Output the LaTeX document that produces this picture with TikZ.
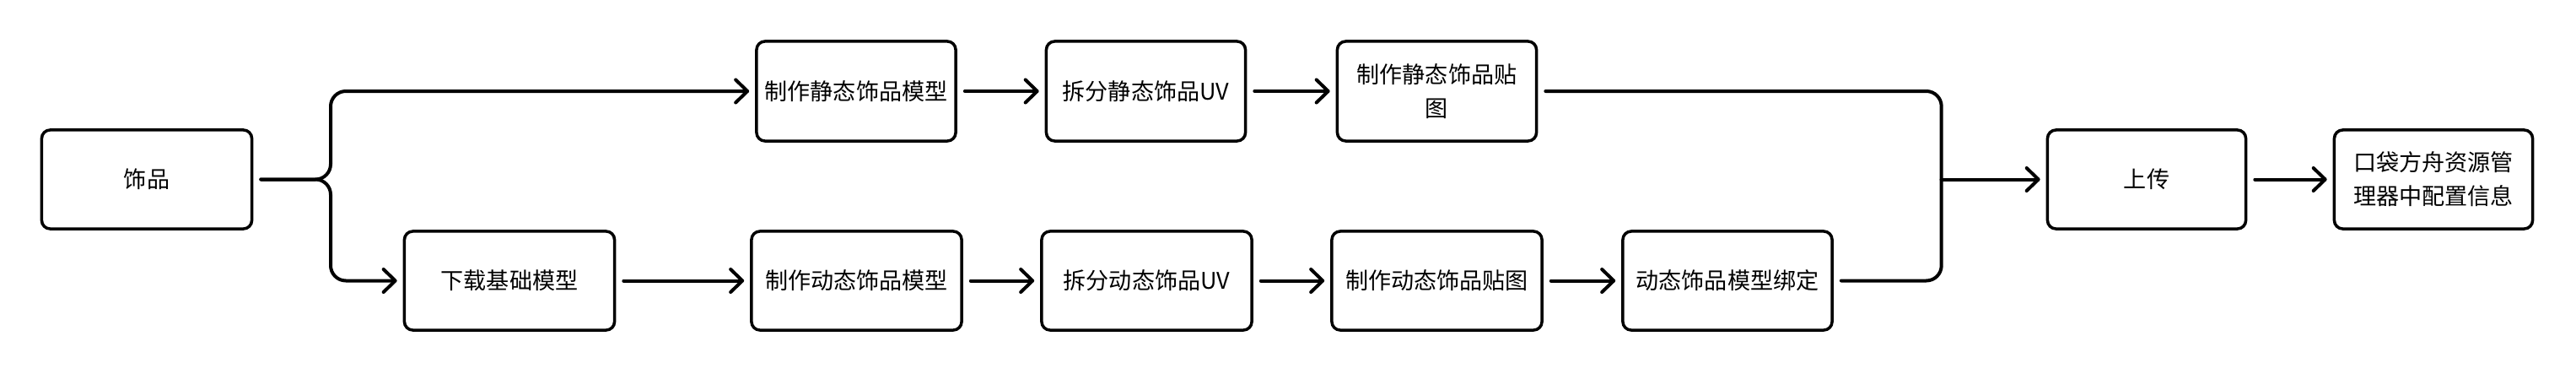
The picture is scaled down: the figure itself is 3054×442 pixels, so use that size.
\documentclass[tikz,border=0pt]{standalone}
\usepackage{fontspec}
\setmainfont{Noto Sans CJK SC}
\usetikzlibrary{arrows.meta}
\begin{document}
\begin{tikzpicture}[x=0.01cm,y=-0.01cm,
  box/.style={draw=black,line width=0.035cm,rounded corners=0.1cm,inner sep=0pt,
    minimum height=1.17cm,align=center,font=\fontsize{7.7pt}{11.4pt}\selectfont},
  conn/.style={draw=black,line width=0.04cm,line cap=round,line join=round,
    rounded corners=0.18cm,shorten <=0.09cm,shorten >=0.07cm,
    -{Straight Barb[length=0.14cm,width=0.27cm,line cap=round,line join=round]}},
  plain/.style={draw=black,line width=0.04cm,line cap=round,line join=round,
    rounded corners=0.18cm,shorten <=0.09cm}
]
\fill[white] (0,0) rectangle (3054,442);
\useasboundingbox (0,0) rectangle (3054,442);

\node[box,minimum width=2.49cm] (shipin) at (174,212.5) {饰品};
\node[box,minimum width=2.49cm] (xiazai) at (604,332.5) {下载基础模型};
\node[box,minimum width=2.36cm,minimum height=1.18cm] (jm) at (1015,108) {制作静态饰品模型};
\node[box,minimum width=2.36cm,minimum height=1.18cm] (jc) at (1358.5,108) {拆分静态饰品UV};
\node[box,minimum width=2.36cm,minimum height=1.18cm] (jt) at (1703.5,108) {制作静态饰品贴\\图};
\node[box,minimum width=2.49cm] (dm) at (1015.5,332.5) {制作动态饰品模型};
\node[box,minimum width=2.49cm] (dc) at (1359.5,332.5) {拆分动态饰品UV};
\node[box,minimum width=2.49cm] (dt) at (1703.5,332.5) {制作动态饰品贴图};
\node[box,minimum width=2.48cm] (db) at (2048,332.5) {动态饰品模型绑定};
\node[box,minimum width=2.35cm] (sc) at (2545,212.5) {上传};
\node[box,minimum width=2.35cm] (kd) at (2885,212.5) {口袋方舟资源管\\理器中配置信息};

\coordinate (split) at (392,212.5);
\coordinate (merge) at (2301.7,212.5);

\draw[conn] (shipin.east) -- (split) |- (jm.west);
\draw[conn] (shipin.east) -- (split) |- (xiazai.west);
\draw[conn] (jm) -- (jc);
\draw[conn] (jc) -- (jt);
\draw[conn] (xiazai) -- (dm);
\draw[conn] (dm) -- (dc);
\draw[conn] (dc) -- (dt);
\draw[conn] (dt) -- (db);
\draw[plain] (jt.east) -| (merge);
\draw[plain] (db.east) -| (merge);
\draw[conn,shorten <=0pt] (merge) -- (sc.west);
\draw[conn] (sc) -- (kd);
\end{tikzpicture}
\end{document}
